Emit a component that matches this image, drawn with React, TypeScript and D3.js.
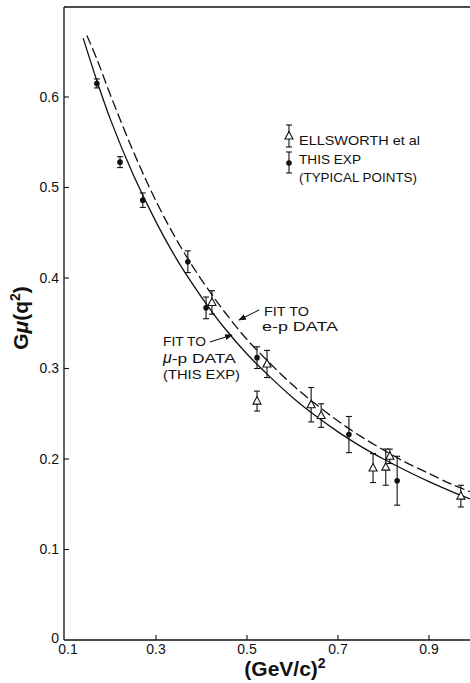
import React from "react";
import * as d3 from "d3";

// ---- data ----
// This experiment (mu-p), filled circles
const thisExpQ2 = [0.170, 0.221, 0.271, 0.370, 0.410, 0.522, 0.724, 0.830];
const thisExpG = [0.615, 0.528, 0.486, 0.418, 0.367, 0.312, 0.227, 0.176];
const thisExpErr = [0.005, 0.006, 0.008, 0.012, 0.012, 0.012, 0.020, 0.027];

// Ellsworth et al (e-p), open triangles
const ellsQ2 = [0.423, 0.522, 0.544, 0.641, 0.663, 0.777, 0.805, 0.814, 0.970];
const ellsG = [0.373, 0.264, 0.305, 0.260, 0.248, 0.190, 0.191, 0.203, 0.159];
const ellsErr = [0.013, 0.011, 0.015, 0.019, 0.013, 0.016, 0.020, 0.008, 0.012];

// Fit to mu-p data (solid)
const muFitQ2 = [0.14, 0.17, 0.20, 0.25, 0.30, 0.35, 0.40, 0.45, 0.50, 0.55, 0.60, 0.65, 0.70, 0.75, 0.80, 0.85, 0.90, 0.95, 0.99];
const muFitG = [0.665, 0.618, 0.575, 0.514, 0.462, 0.417, 0.379, 0.345, 0.316, 0.291, 0.268, 0.248, 0.230, 0.214, 0.200, 0.187, 0.175, 0.164, 0.156];

// Fit to e-p data (dashed)
const epFitQ2 = [0.148, 0.17, 0.20, 0.25, 0.30, 0.35, 0.40, 0.45, 0.50, 0.55, 0.60, 0.65, 0.70, 0.75, 0.80, 0.85, 0.90, 0.95, 0.99];
const epFitG = [0.668, 0.642, 0.602, 0.540, 0.485, 0.438, 0.398, 0.363, 0.332, 0.306, 0.282, 0.261, 0.242, 0.225, 0.210, 0.196, 0.184, 0.172, 0.164];

const xTicks = [0.1, 0.3, 0.5, 0.7, 0.9];
const xTickLabels = ["0.1", "0.3", "0.5", "0.7", "0.9"];
const yTicks = [0.1, 0.2, 0.3, 0.4, 0.5, 0.6];
const yTickLabels = ["0.1", "0.2", "0.3", "0.4", "0.5", "0.6"];

const W = 470;
const H = 683;
const FONT = "'Liberation Sans', Arial, Helvetica, sans-serif";

export default function App() {
  const x = d3.scaleLinear().domain([0.1, 0.9]).range([65, 429]);
  const y = d3.scaleLinear().domain([0, 0.6]).range([640, 97]);
  const x0 = 64;
  const xEnd = W;
  const yTop = 7;
  const yBot = y(0);

  const line = d3
    .line<[number, number]>()
    .x((d) => x(d[0]))
    .y((d) => y(d[1]))
    .curve(d3.curveCatmullRom.alpha(0.5));

  const muPts: [number, number][] = muFitQ2.map((q, i) => [q, muFitG[i]]);
  const epPts: [number, number][] = epFitQ2.map((q, i) => [q, epFitG[i]]);

  const cap = 3;
  const errBar = (cx: number, cy: number, e: number, key: string) => (
    <g key={key} stroke="#111" strokeWidth={1.1}>
      <line x1={cx} x2={cx} y1={y(cy + e)} y2={y(cy - e)} />
      <line x1={cx - cap} x2={cx + cap} y1={y(cy + e)} y2={y(cy + e)} />
      <line x1={cx - cap} x2={cx + cap} y1={y(cy - e)} y2={y(cy - e)} />
    </g>
  );
  const tri = (cx: number, cy: number, key: string) => (
    <path
      key={key}
      d={`M${cx},${cy - 4.5} L${cx + 4},${cy + 3} L${cx - 4},${cy + 3} Z`}
      fill="#fff"
      stroke="#111"
      strokeWidth={1.1}
    />
  );

  // legend pixel anchors
  const lgX = 289;

  return (
    <svg
      width={W}
      height={H}
      viewBox={`0 0 ${W} ${H}`}
      style={{ position: "absolute", left: 0, top: 0, background: "#fff" }}
      fontFamily={FONT}
    >
      <defs>
        <marker id="arr" viewBox="0 0 10 10" refX="9" refY="5" markerWidth="7" markerHeight="7" orient="auto">
          <path d="M0,1 L10,5 L0,9 Z" fill="#111" />
        </marker>
      </defs>
      <rect x={0} y={0} width={W} height={H} fill="#fff" />

      {/* frame */}
      <line x1={x0} x2={x0} y1={yTop} y2={yBot} stroke="#111" strokeWidth={1.3} />
      <line x1={x0} x2={xEnd} y1={yBot} y2={yBot} stroke="#111" strokeWidth={1.3} />
      <line x1={x0} x2={xEnd} y1={yTop} y2={yTop} stroke="#111" strokeWidth={1.3} />

      {/* y ticks */}
      {yTicks.map((t, i) => (
        <g key={"yt" + i}>
          <line x1={x0} x2={x0 + 5} y1={y(t)} y2={y(t)} stroke="#111" strokeWidth={1.1} />
          <text x={x0 - 5} y={y(t)} dy="0.35em" textAnchor="end" fontSize={14} fill="#111">
            {yTickLabels[i]}
          </text>
        </g>
      ))}
      <text x={x0 - 5} y={yBot - 2} dy="0.35em" textAnchor="end" fontSize={14} fill="#111">
        0
      </text>

      {/* x ticks */}
      {xTicks.map((t, i) => (
        <g key={"xt" + i}>
          {i > 0 && <line x1={x(t)} x2={x(t)} y1={yBot} y2={yBot - 5} stroke="#111" strokeWidth={1.1} />}
          <text x={x(t) + (i === 0 ? 3 : 0)} y={yBot + 14} textAnchor="middle" fontSize={14} fill="#111">
            {xTickLabels[i]}
          </text>
        </g>
      ))}

      {/* axis titles */}
      <text x={285} y={676} textAnchor="middle" fontSize={21} fontWeight="bold" fill="#111">
        (GeV/c)
        <tspan fontSize={14} dy={-8}>2</tspan>
      </text>
      <text
        transform="translate(28,318) rotate(-90)"
        textAnchor="middle"
        fontSize={21}
        fontWeight="bold"
        fill="#111"
      >
        G<tspan fontStyle="italic">μ</tspan>(q<tspan fontSize={14} dy={-8}>2</tspan>
        <tspan dy={8}>)</tspan>
      </text>

      {/* fit curves */}
      <path d={line(muPts) || ""} fill="none" stroke="#111" strokeWidth={1.3} />
      <path d={line(epPts) || ""} fill="none" stroke="#111" strokeWidth={1.3} strokeDasharray="10,4" />

      {/* Ellsworth data */}
      {ellsQ2.map((q, i) => (
        <g key={"e" + i}>
          {errBar(x(q), ellsG[i], ellsErr[i], "eb" + i)}
          {tri(x(q), y(ellsG[i]), "et" + i)}
        </g>
      ))}

      {/* This experiment */}
      {thisExpQ2.map((q, i) => (
        <g key={"m" + i}>
          {errBar(x(q), thisExpG[i], thisExpErr[i], "mb" + i)}
          <circle cx={x(q)} cy={y(thisExpG[i])} r={2.8} fill="#111" />
        </g>
      ))}

      {/* legend */}
      <g stroke="#111" strokeWidth={1.1}>
        <line x1={lgX} x2={lgX} y1={125} y2={147} />
        <line x1={lgX - 3} x2={lgX + 3} y1={125} y2={125} />
        <line x1={lgX - 3} x2={lgX + 3} y1={147} y2={147} />
        <line x1={lgX} x2={lgX} y1={152} y2={173} />
        <line x1={lgX - 3} x2={lgX + 3} y1={152} y2={152} />
        <line x1={lgX - 3} x2={lgX + 3} y1={173} y2={173} />
      </g>
      <path d={`M${lgX},${131.5} L${lgX + 4},${139} L${lgX - 4},${139} Z`} fill="#fff" stroke="#111" strokeWidth={1.1} />
      <circle cx={lgX} cy={163} r={2.8} fill="#111" />
      <g fontSize={13} fill="#111">
        <text x={299} y={145} textLength={121} lengthAdjust="spacingAndGlyphs">ELLSWORTH et al</text>
        <text x={299} y={164} textLength={62} lengthAdjust="spacingAndGlyphs">THIS EXP</text>
        <text x={299} y={182} textLength={118} lengthAdjust="spacingAndGlyphs">(TYPICAL POINTS)</text>
      </g>

      {/* annotations */}
      <line x1={259} y1={310} x2={239} y2={320} stroke="#111" strokeWidth={1.1} markerEnd="url(#arr)" />
      <line x1={210} y1={342} x2={232} y2={335} stroke="#111" strokeWidth={1.1} markerEnd="url(#arr)" />
      <g fontSize={13} fill="#111">
        <text x={264} y={316} textLength={45} lengthAdjust="spacingAndGlyphs">FIT TO</text>
        <text x={262} y={331} textLength={76} lengthAdjust="spacingAndGlyphs">e-p DATA</text>
        <text x={163} y={346} textLength={43} lengthAdjust="spacingAndGlyphs">FIT TO</text>
        <text x={163} y={363}>
          <tspan fontSize={16} fontStyle="italic">μ</tspan>
          <tspan textLength={64} lengthAdjust="spacingAndGlyphs">-p DATA</tspan>
        </text>
        <text x={163} y={379} textLength={77} lengthAdjust="spacingAndGlyphs">(THIS EXP)</text>
      </g>
    </svg>
  );
}
